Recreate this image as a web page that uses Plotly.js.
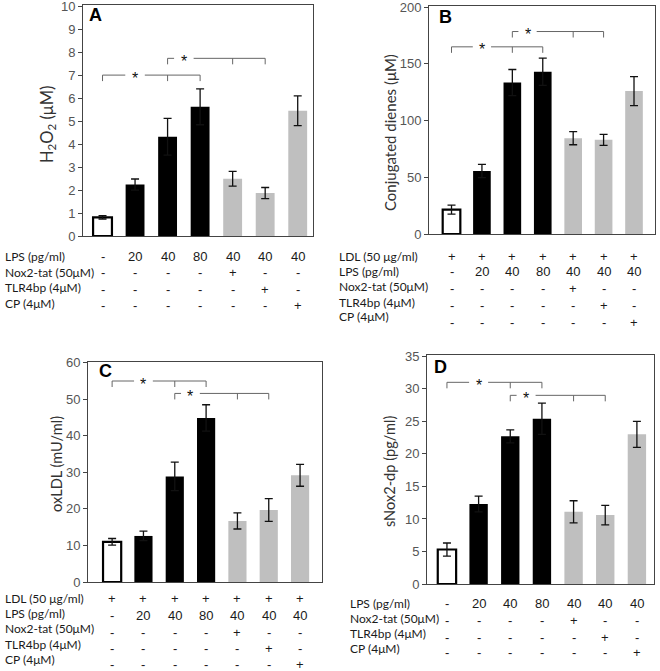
<!DOCTYPE html>
<html>
<head>
<meta charset="utf-8">
<script src="https://cdn.plot.ly/plotly-3.0.1.min.js"></script>
<style>html,body{margin:0;padding:0;background:#fff;}#chart{width:660px;height:671px;}</style>
</head>
<body>
<div id="chart"></div>
<script>
// ---- data ----
const groups = [0, 1, 2, 3, 4, 5, 6];
const barColors = ['#ffffff', '#000000', '#000000', '#000000', '#bfbfbf', '#bfbfbf', '#bfbfbf'];

const h2o2 = [0.81, 2.24, 4.32, 5.62, 2.49, 1.87, 5.45];
const h2o2Err = [0.07, 0.24, 0.80, 0.78, 0.32, 0.24, 0.65];

const dienes = [21.5, 55.5, 133.5, 143, 84.5, 83, 126];
const dienesErr = [4, 5.8, 11.5, 12, 5.8, 4.8, 12.8];

const oxldl = [11, 12.6, 28.9, 44.9, 16.7, 19.7, 29.2];
const oxldlErr = [0.9, 1.3, 3.9, 3.6, 2.2, 3.1, 3.0];

const snox = [5.3, 12.3, 22.7, 25.4, 11.1, 10.6, 23.0];
const snoxErr = [1.0, 1.2, 1.0, 2.4, 1.7, 1.5, 2.0];

const rowLabels = ['LDL (50 \u03bcg/ml)', 'LPS (pg/ml)', 'Nox2-tat (50\u03bcM)', 'TLR4bp (4\u03bcM)', 'CP (4\u03bcM)'];
const ldlRow = ['+', '+', '+', '+', '+', '+', '+'];
const lpsRow = ['-', '20', '40', '80', '40', '40', '40'];
const noxRow = ['-', '-', '-', '-', '+', '-', '-'];
const tlrRow = ['-', '-', '-', '-', '-', '+', '-'];
const cpRow = ['-', '-', '-', '-', '-', '-', '+'];

const yTitles = ['H<sub>2</sub>O<sub>2</sub> (\u03bcM)', 'Conjugated dienes (\u03bcM)', 'oxLDL (mU/ml)', 'sNox2-dp (pg/ml)'];
const panelLetters = ['A', 'B', 'C', 'D'];

// significance brackets: span between groups, drop ticks, star position, level
const sigA = [{from: 0, to: 3, ticks: [0, 2, 3], star: 1, level: 7.0}, {from: 2, to: 5, ticks: [2, 4, 5], star: 2.5, level: 7.73}];
const sigB = [{from: 0, to: 3, ticks: [0, 2, 3], star: 1, level: 165}, {from: 2, to: 5, ticks: [2, 4, 5], star: 2.5, level: 178.5}];
const sigC = [{from: 0, to: 3, ticks: [0, 2, 3], star: 1, level: 55}, {from: 2, to: 5, ticks: [2, 4, 5], star: 2.5, level: 51.6}];
const sigD = [{from: 0, to: 3, ticks: [0, 2, 3], star: 1, level: 31}, {from: 2, to: 5, ticks: [2, 4, 5], star: 2.5, level: 29}];

// ---- layout geometry (pixels) ----
const W = 660, H = 671;
const panels = [
  {vals: h2o2, err: h2o2Err, sig: sigA, px: [83, 313], py: [236, 5], yr: [0, 10.05], dtick: 1, xr: [-0.6, 6.47],
   rows: [lpsRow, noxRow, tlrRow, cpRow], rowLab: [1, 2, 3, 4], labX: 3, labY: [256, 272, 287, 303], symY: [256, 272, 289, 305],
   letter: [87, 15], title: [48, 125], tsize: 16.5},
  {vals: dienes, err: dienesErr, sig: sigB, px: [429, 655], py: [234, 6], yr: [0, 201], dtick: 50, xr: [-0.74, 6.69],
   rows: [ldlRow, lpsRow, noxRow, tlrRow, cpRow], rowLab: [0, 1, 2, 3, 4], labX: 337, labY: [256, 271, 286, 302, 317], symY: [256, 271, 288, 305, 322],
   letter: [437, 17], title: [390, 133], tsize: 15},
  {vals: oxldl, err: oxldlErr, sig: sigC, px: [88, 322], py: [582, 362], yr: [0, 60.2], dtick: 10, xr: [-0.77, 6.70],
   rows: [ldlRow, lpsRow, noxRow, tlrRow, cpRow], rowLab: [0, 1, 2, 3, 4], labX: 3, labY: [598, 613, 628, 644, 659], symY: [598, 615, 632, 648, 664],
   letter: [97, 371], title: [56, 464], tsize: 14.6},
  {vals: snox, err: snoxErr, sig: sigD, px: [427, 654], py: [584, 355], yr: [0, 35.2], dtick: 5, xr: [-0.63, 6.54],
   rows: [lpsRow, noxRow, tlrRow, cpRow], rowLab: [1, 2, 3, 4], labX: 348, labY: [603, 618, 633, 648], symY: [603, 620, 637, 652],
   letter: [432, 367], title: [389, 472], tsize: 14.6}
];

const data = [];
const annotations = [];
const shapes = [];
const layout = {
  width: W, height: H, margin: {l: 0, r: 0, t: 0, b: 0},
  paper_bgcolor: '#ffffff', plot_bgcolor: '#ffffff', showlegend: false,
  font: {family: 'Lato, Liberation Sans, sans-serif', color: '#222'}
};

const lineCol = '#444';
const tableFont = {family: 'Lato, sans-serif', size: 12, color: '#1a1a1a'};
const symFont = {family: 'Liberation Sans, Arial, sans-serif', size: 13, color: '#1a1a1a'};

panels.forEach((p, i) => {
  const n = i === 0 ? '' : String(i + 1);
  const xa = 'x' + n, ya = 'y' + n;
  data.push({
    type: 'bar', x: groups, y: p.vals, xaxis: xa, yaxis: ya, width: 0.58,
    marker: {color: barColors, line: {color: '#000', width: barColors.map(c => c === '#ffffff' ? 2.2 : 0)}},
    error_y: {type: 'data', array: p.err, visible: true, color: '#111', thickness: 1.3, width: 4},
    hoverinfo: 'skip'
  });
  layout['xaxis' + n] = {
    domain: [p.px[0] / W, p.px[1] / W], range: p.xr, anchor: ya,
    showticklabels: false, ticks: '', showgrid: false, zeroline: false,
    showline: true, mirror: true, linecolor: lineCol, linewidth: 1, fixedrange: true
  };
  layout['yaxis' + n] = {
    domain: [1 - p.py[0] / H, 1 - p.py[1] / H], range: p.yr, anchor: xa, dtick: p.dtick,
    ticks: 'outside', ticklen: 4, tickcolor: lineCol, tickwidth: 1, ticklabeloverflow: 'allow',
    showgrid: false, zeroline: false, showline: true, mirror: true, linecolor: lineCol, linewidth: 1,
    tickfont: {family: 'Liberation Sans, Arial, sans-serif', size: 13, color: '#555'},
    automargin: false, fixedrange: true
  };
  // y-axis title
  annotations.push({
    xref: 'paper', yref: 'paper', x: p.title[0] / W, y: 1 - p.title[1] / H, xanchor: 'center', yanchor: 'middle',
    textangle: -90, text: yTitles[i], showarrow: false,
    font: {family: 'Lato, sans-serif', size: p.tsize, color: '#333'}
  });
  // panel letter
  annotations.push({
    xref: 'paper', yref: 'paper', x: p.letter[0] / W, y: 1 - p.letter[1] / H, xanchor: 'left', yanchor: 'middle',
    text: '<b>' + panelLetters[i] + '</b>', showarrow: false,
    font: {family: 'Liberation Sans, Arial, sans-serif', size: 18, color: '#000'}
  });
  // significance brackets
  const pxH = p.py[0] - p.py[1];
  const unitPerPx = (p.yr[1] - p.yr[0]) / pxH;
  const drop = 6 * unitPerPx;
  const gap = 0.3;
  p.sig.forEach(s => {
    const seg = [[s.from, s.star - gap], [s.star + gap, s.to]];
    seg.forEach(sg => {
      shapes.push({type: 'line', xref: xa, yref: ya, x0: sg[0], x1: sg[1], y0: s.level, y1: s.level,
        line: {color: '#666', width: 1}});
    });
    s.ticks.forEach(t => {
      shapes.push({type: 'line', xref: xa, yref: ya, x0: t, x1: t, y0: s.level, y1: s.level - drop,
        line: {color: '#666', width: 1}});
    });
    annotations.push({xref: xa, yref: ya, x: s.star, y: s.level, yshift: -3, text: '*', showarrow: false,
      xanchor: 'center', yanchor: 'middle', font: {family: 'Liberation Sans, Arial, sans-serif', size: 16, color: '#111'}});
  });
  // treatment table
  p.rows.forEach((row, r) => {
    annotations.push({xref: 'paper', yref: 'paper', x: p.labX / W, y: 1 - p.labY[r] / H, xanchor: 'left', yanchor: 'middle',
      text: rowLabels[p.rowLab[r]], showarrow: false, font: tableFont});
    row.forEach((sym, k) => {
      annotations.push({xref: xa, yref: 'paper', x: groups[k], y: 1 - p.symY[r] / H, xanchor: 'center', yanchor: 'middle',
        text: sym, showarrow: false, font: symFont});
    });
  });
});

layout.annotations = annotations;
layout.shapes = shapes;

Plotly.newPlot('chart', data, layout, {staticPlot: true, displayModeBar: false});
</script>
</body>
</html>
